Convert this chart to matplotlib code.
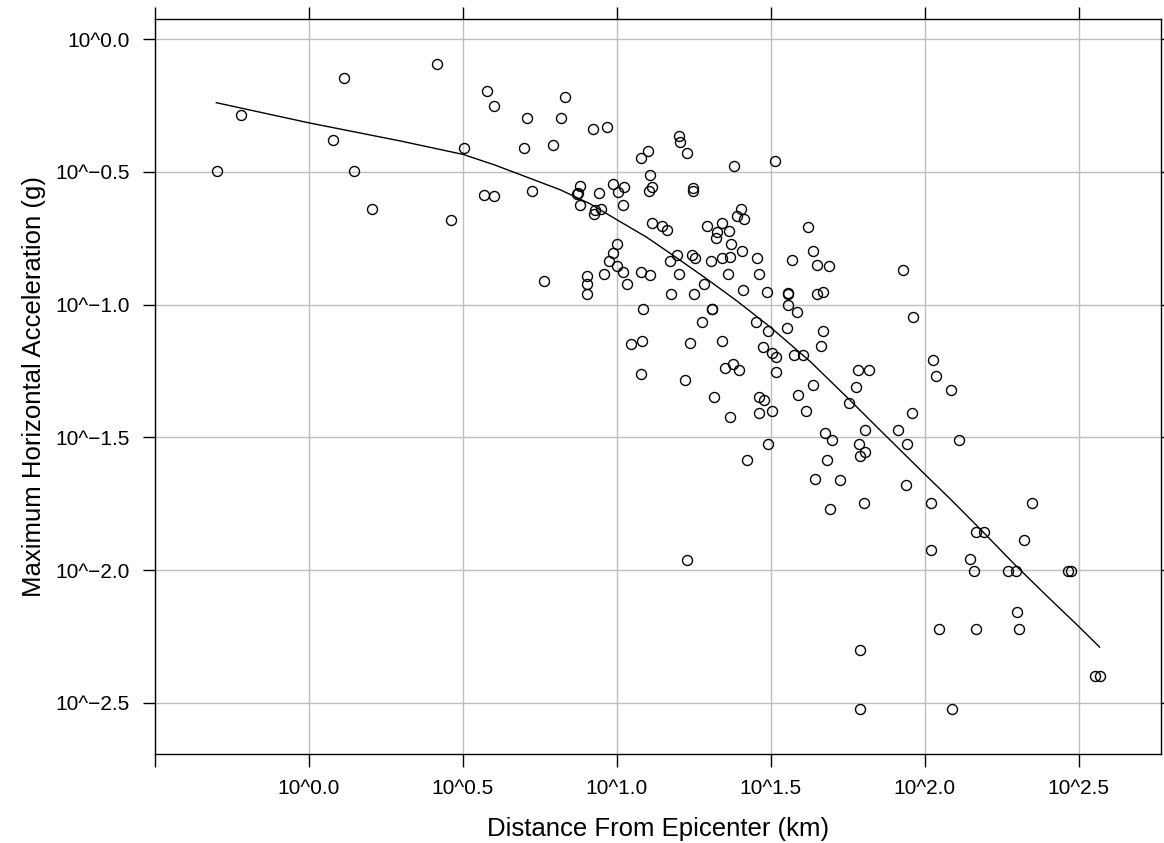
import numpy as np
import matplotlib
matplotlib.use("Agg")
import matplotlib.pyplot as plt

plt.rcParams["font.family"] = ["Liberation Sans", "DejaVu Sans"]

# values, as log10 (axes are labelled 10^x)
log_dist = [
    -0.300, -0.222, 0.114, 0.079, 0.146, 0.204, 0.415, 0.461, 0.505, 0.579,
    0.601, 0.832, 0.707, 0.819, 0.924, 0.967, 0.699, 0.792, 1.203, 1.205,
    1.100, 1.079, 1.229, 1.382, 1.513, 1.109, 0.569, 0.601, 0.724, 0.880,
    0.870, 0.873, 0.880, 0.943, 0.929, 0.927, 0.949, 0.987, 1.003, 1.024,
    1.020, 1.114, 1.104, 1.247, 1.247, 1.113, 1.146, 1.164, 1.292, 1.340,
    1.325, 1.321, 1.365, 1.404, 1.390, 1.414, 1.370, 1.405, 1.622, 1.636,
    1.651, 1.000, 0.987, 0.974, 1.000, 1.020, 1.197, 1.173, 1.244, 1.254,
    1.305, 1.343, 1.368, 1.456, 1.570, 1.079, 1.107, 1.203, 1.360, 1.462,
    0.958, 0.902, 0.763, 1.688, 1.929, 0.902, 0.902, 1.032, 1.175, 1.252,
    1.283, 1.409, 1.489, 1.557, 1.557, 1.555, 1.584, 1.085, 1.310, 1.310,
    1.278, 1.453, 1.490, 1.554, 1.045, 1.083, 1.237, 1.342, 1.476, 1.503,
    1.516, 1.577, 1.606, 1.079, 1.222, 1.351, 1.378, 1.397, 1.518, 1.638,
    1.317, 1.461, 1.477, 1.589, 1.368, 1.461, 1.503, 1.616, 1.490, 1.422,
    1.645, 1.651, 1.669, 1.963, 1.671, 1.662, 1.783, 1.819, 2.028, 2.036,
    2.086, 1.777, 1.753, 1.958, 1.806, 1.913, 1.676, 1.698, 1.788, 1.944,
    2.113, 1.806, 1.790, 1.682, 1.724, 1.939, 1.803, 2.021, 2.349, 1.692,
    2.168, 2.192, 2.323, 2.021, 2.148, 2.160, 2.270, 2.295, 2.465, 2.476,
    2.299, 2.048, 2.166, 2.306, 1.791, 2.554, 2.568, 1.791, 2.088, 1.229,
]
log_accel = [
    -0.497, -0.286, -0.145, -0.379, -0.497, -0.640, -0.093, -0.680, -0.410, -0.195,
    -0.253, -0.217, -0.295, -0.295, -0.338, -0.331, -0.410, -0.399, -0.366, -0.387,
    -0.421, -0.447, -0.429, -0.476, -0.457, -0.510, -0.587, -0.589, -0.570, -0.553,
    -0.582, -0.579, -0.623, -0.581, -0.642, -0.660, -0.640, -0.545, -0.574, -0.556,
    -0.626, -0.557, -0.570, -0.562, -0.570, -0.691, -0.703, -0.718, -0.702, -0.692,
    -0.726, -0.748, -0.722, -0.640, -0.665, -0.678, -0.771, -0.797, -0.709, -0.797,
    -0.850, -0.771, -0.806, -0.834, -0.855, -0.877, -0.813, -0.834, -0.813, -0.825,
    -0.834, -0.825, -0.820, -0.825, -0.831, -0.877, -0.887, -0.883, -0.883, -0.883,
    -0.883, -0.893, -0.911, -0.855, -0.871, -0.922, -0.960, -0.922, -0.960, -0.960,
    -0.923, -0.944, -0.953, -0.957, -0.959, -1.001, -1.028, -1.015, -1.016, -1.018,
    -1.067, -1.067, -1.098, -1.089, -1.150, -1.138, -1.144, -1.138, -1.158, -1.183,
    -1.196, -1.189, -1.189, -1.261, -1.285, -1.238, -1.223, -1.246, -1.253, -1.302,
    -1.348, -1.348, -1.358, -1.339, -1.422, -1.410, -1.400, -1.400, -1.525, -1.586,
    -1.658, -0.960, -0.953, -1.047, -1.099, -1.156, -1.246, -1.246, -1.208, -1.270,
    -1.320, -1.311, -1.369, -1.410, -1.471, -1.471, -1.483, -1.510, -1.525, -1.525,
    -1.510, -1.554, -1.570, -1.586, -1.659, -1.679, -1.746, -1.746, -1.746, -1.771,
    -1.855, -1.855, -1.888, -1.923, -1.959, -2.002, -2.002, -2.002, -2.002, -2.002,
    -2.157, -2.223, -2.223, -2.223, -2.301, -2.399, -2.399, -2.524, -2.524, -1.961,
]

# smooth (loess) curve
curve_log_dist = [-0.301, 0.000, 0.296, 0.501, 0.604, 0.718, 0.816, 0.913, 1.000,
                  1.097, 1.195, 1.292, 1.390, 1.498, 1.628, 1.753, 1.871, 1.996,
                  2.083, 2.180, 2.288, 2.391, 2.499, 2.568]
curve_log_accel = [-0.239, -0.315, -0.383, -0.434, -0.474, -0.524, -0.567, -0.620, -0.680,
                   -0.746, -0.824, -0.903, -0.986, -1.084, -1.214, -1.355, -1.491, -1.634,
                   -1.732, -1.845, -1.974, -2.091, -2.211, -2.290]

x_tick_exp = [-0.5, 0.0, 0.5, 1.0, 1.5, 2.0, 2.5]
y_tick_exp = [0.0, -0.5, -1.0, -1.5, -2.0, -2.5]


def exp_label(e):
    s = f"{abs(e):.1f}"
    return "10^" + ("\u2212" + s if e < 0 else s)


dist = np.power(10.0, log_dist)
accel = np.power(10.0, log_accel)

fig = plt.figure(figsize=(11.64, 8.43), dpi=100)
ax = fig.add_axes([155 / 1164, 1 - 754 / 843, (1160.5 - 155) / 1164, (754 - 18.7) / 843])

ax.plot(dist, accel, linestyle="none", marker="o", markersize=7.2,
        markerfacecolor="none", markeredgecolor="black", markeredgewidth=1.0)
ax.plot(np.power(10.0, curve_log_dist), np.power(10.0, curve_log_accel),
        color="black", linewidth=1.0)

ax.set_xscale("log")
ax.set_yscale("log")
ax.set_xlim(10 ** -0.5003, 10 ** 2.766)
ax.set_ylim(10 ** -2.693, 10 ** 0.0775)

ax.minorticks_off()
ax.set_xticks(np.power(10.0, x_tick_exp))
ax.set_xticklabels(["" if e < 0 else exp_label(e) for e in x_tick_exp])
ax.set_yticks(np.power(10.0, y_tick_exp))
ax.set_yticklabels([exp_label(e) for e in y_tick_exp])

ax.tick_params(direction="out", length=9, width=1.0, top=True, right=True,
               labelsize=15, pad=9, colors="black")
ax.grid(True, color="#bebebe", linewidth=1.0)
ax.set_axisbelow(True)
for sp in ax.spines.values():
    sp.set_linewidth(1.0)

ax.set_xlabel("Distance From Epicenter (km)", fontsize=18.5, labelpad=14)
ax.set_ylabel("Maximum Horizontal Acceleration (g)", fontsize=18.5, labelpad=7)

fig.savefig("out.png", dpi=100)
